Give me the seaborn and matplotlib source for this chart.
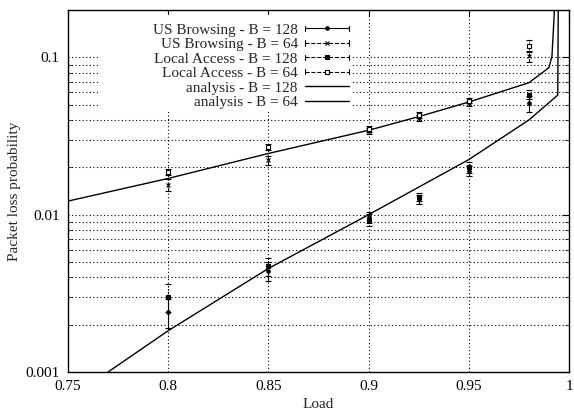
import numpy as np
import pandas as pd
import matplotlib
matplotlib.use("Agg")
import matplotlib.pyplot as plt
import seaborn as sns
from matplotlib.lines import Line2D
from matplotlib.legend_handler import HandlerBase
from matplotlib.patches import Rectangle
from matplotlib.ticker import FixedLocator, NullFormatter, LogLocator

# ---------------- data ----------------
load = [0.8, 0.85, 0.9, 0.925, 0.95, 0.98]

us128 = [0.0024, 0.0044, 0.0096, 0.0125, 0.0190, 0.051]
us128_err = [0.0005, 0.0006, 0.0008, 0.0008, 0.0015, 0.006]
us64 = [0.0155, 0.0221, 0.0342, 0.0413, 0.0510, 0.102]
us64_err = [0.0014, 0.0015, 0.0015, 0.0020, 0.0020, 0.008]
la128 = [0.0030, 0.0047, 0.0093, 0.0130, 0.0200, 0.058]
la128_err = [0.0006, 0.0006, 0.0008, 0.0008, 0.0015, 0.004]
la64 = [0.0186, 0.0268, 0.0352, 0.0431, 0.0530, 0.118]
la64_err = [0.0008, 0.0012, 0.0015, 0.0020, 0.0020, 0.010]

an128_x = [0.765, 0.77, 0.8, 0.85, 0.9, 0.95, 0.98, 0.9944, 0.9948]
an128_y = [0.00085, 0.0010, 0.00183, 0.00455, 0.0100, 0.0224, 0.0400, 0.0576, 0.5]
an64_x = [0.75, 0.8, 0.85, 0.9, 0.925, 0.95, 0.98, 0.990, 0.9915, 0.9925, 0.994]
an64_y = [0.0122, 0.0170, 0.0245, 0.0344, 0.0420, 0.0520, 0.0690, 0.0860, 0.102, 0.175, 0.5]

x_ticks = [0.75, 0.8, 0.85, 0.9, 0.95, 1.0]
x_labels = ["0.75", "0.8", "0.85", "0.9", "0.95", "1"]
y_ticks = [0.001, 0.01, 0.1]
y_labels = ["0.001", "0.01", "0.1"]

labels = ["US Browsing - B = 128", "US Browsing - B = 64",
          "Local Access - B = 128", "Local Access - B = 64",
          "analysis - B = 128", "analysis - B = 64"]


class ErrKeyHandler(HandlerBase):
    """Legend sample |---o---| like gnuplot errorbar keys."""

    def create_artists(self, legend, orig_handle, xdescent, ydescent, width, height,
                       fontsize, trans):
        y = height / 2.0 - ydescent
        x0, x1 = -xdescent, width - xdescent
        line = Line2D([x0, x1], [y, y], color="black", lw=orig_handle.get_linewidth(),
                      ls=orig_handle.get_linestyle())
        h = height * 0.25
        c1 = Line2D([x0, x0], [y - h, y + h], color="black", lw=0.8)
        c2 = Line2D([x1, x1], [y - h, y + h], color="black", lw=0.8)
        mk = Line2D([(x0 + x1) / 2], [y], ls="none", marker=orig_handle.get_marker(),
                    ms=orig_handle.get_markersize(), mfc=orig_handle.get_markerfacecolor(),
                    mec="black", mew=0.8)
        for a in (line, c1, c2, mk):
            a.set_transform(trans)
        return [line, c1, c2, mk]


# ---------------- style ----------------
sns.set_style("white")
plt.rcParams["font.family"] = ["Liberation Serif", "DejaVu Serif"]
plt.rcParams["font.size"] = 11

fig = plt.figure(figsize=(5.74, 4.16), dpi=100)
ax = fig.add_axes([68 / 574, 1 - 372 / 416, (569 - 68) / 574, (372 - 10) / 416])

ax.set_yscale("log")
ax.set_xlim(0.75, 1.0)
ax.set_ylim(0.001, 0.2)

# grid
for gx in [0.8, 0.85, 0.9, 0.95]:
    ax.axvline(gx, color="black", lw=0.8, ls=(0, (1, 2.2)), zorder=1)
for dec in [0.001, 0.01, 0.1]:
    for m in range(1, 10):
        v = dec * m
        if 0.001 < v < 0.2:
            ax.axhline(v, color="black", lw=0.8, ls=(0, (1, 2.2)), zorder=1)

# opaque legend area
ax.add_patch(Rectangle(((100 - 68) / 501, 1 - (112 - 10) / 362), (352 - 100) / 501, (112 - 15) / 362,
                       transform=ax.transAxes, facecolor="white", edgecolor="none", zorder=2))

# analysis curves
df128 = pd.DataFrame({"x": an128_x, "y": an128_y})
df64 = pd.DataFrame({"x": an64_x, "y": an64_y})
sns.lineplot(data=df128, x="x", y="y", ax=ax, color="black", lw=1.0, sort=False,
             estimator=None, zorder=4)
sns.lineplot(data=df64, x="x", y="y", ax=ax, color="black", lw=1.0, sort=False,
             estimator=None, zorder=4)

# measured series
series = [
    (us128, us128_err, "o", 2.5, "black", "-"),
    (us64, us64_err, "x", 3.5, "black", (0, (3, 2))),
    (la128, la128_err, "s", 3.0, "black", (0, (1, 1.5))),
    (la64, la64_err, "s", 3.5, "white", (0, (1, 1))),
]
handles = []
hmap = {}
for (vals, err, mk, ms, mfc, ls) in series:
    eb = ax.errorbar(load, vals, yerr=err, fmt=mk, ms=ms, mfc=mfc, mec="black", mew=0.8,
                     ecolor="black", elinewidth=0.8, capsize=2.5, capthick=0.8, zorder=5)
    eb[2][0].set_linestyle(ls)
    main = Line2D([], [], color="black", lw=0.8, ls=ls, marker=mk, ms=ms, mfc=mfc,
                  mec="black", mew=0.8)
    hmap[main] = ErrKeyHandler()
    handles.append(main)
handles.append(Line2D([], [], color="black", lw=1.0))
handles.append(Line2D([], [], color="black", lw=1.0))

leg = ax.legend(handles, labels, handler_map=hmap, loc="upper right",
                bbox_to_anchor=((352 - 68) / 501, 1 - (20 - 10) / 362),
                frameon=False, markerfirst=False, numpoints=1,
                handlelength=2.9, handletextpad=0.45, labelspacing=0.05,
                borderaxespad=0, borderpad=0.2, fontsize=11)
for t in leg.get_texts():
    t.set_ha("right")
leg.set_zorder(6)

# ticks
ax.xaxis.set_major_locator(FixedLocator(x_ticks))
ax.set_xticklabels(x_labels)
ax.yaxis.set_major_locator(FixedLocator(y_ticks))
ax.set_yticklabels(y_labels)
ax.yaxis.set_minor_locator(LogLocator(base=10, subs=np.arange(2, 10)))
ax.yaxis.set_minor_formatter(NullFormatter())
ax.tick_params(axis="both", which="major", direction="in", length=5, width=0.8,
               top=True, right=True, labelsize=11, pad=6, colors="black")
ax.tick_params(axis="y", which="minor", direction="in", length=3, width=0.6,
               left=True, right=True)
for s in ax.spines.values():
    s.set_linewidth(1.0)
    s.set_color("black")
    s.set_zorder(7)

ax.set_xlabel("Load", fontsize=11, labelpad=3)
ax.set_ylabel("Packet loss probability", fontsize=11, labelpad=3)

fig.savefig("out.png", dpi=100)
